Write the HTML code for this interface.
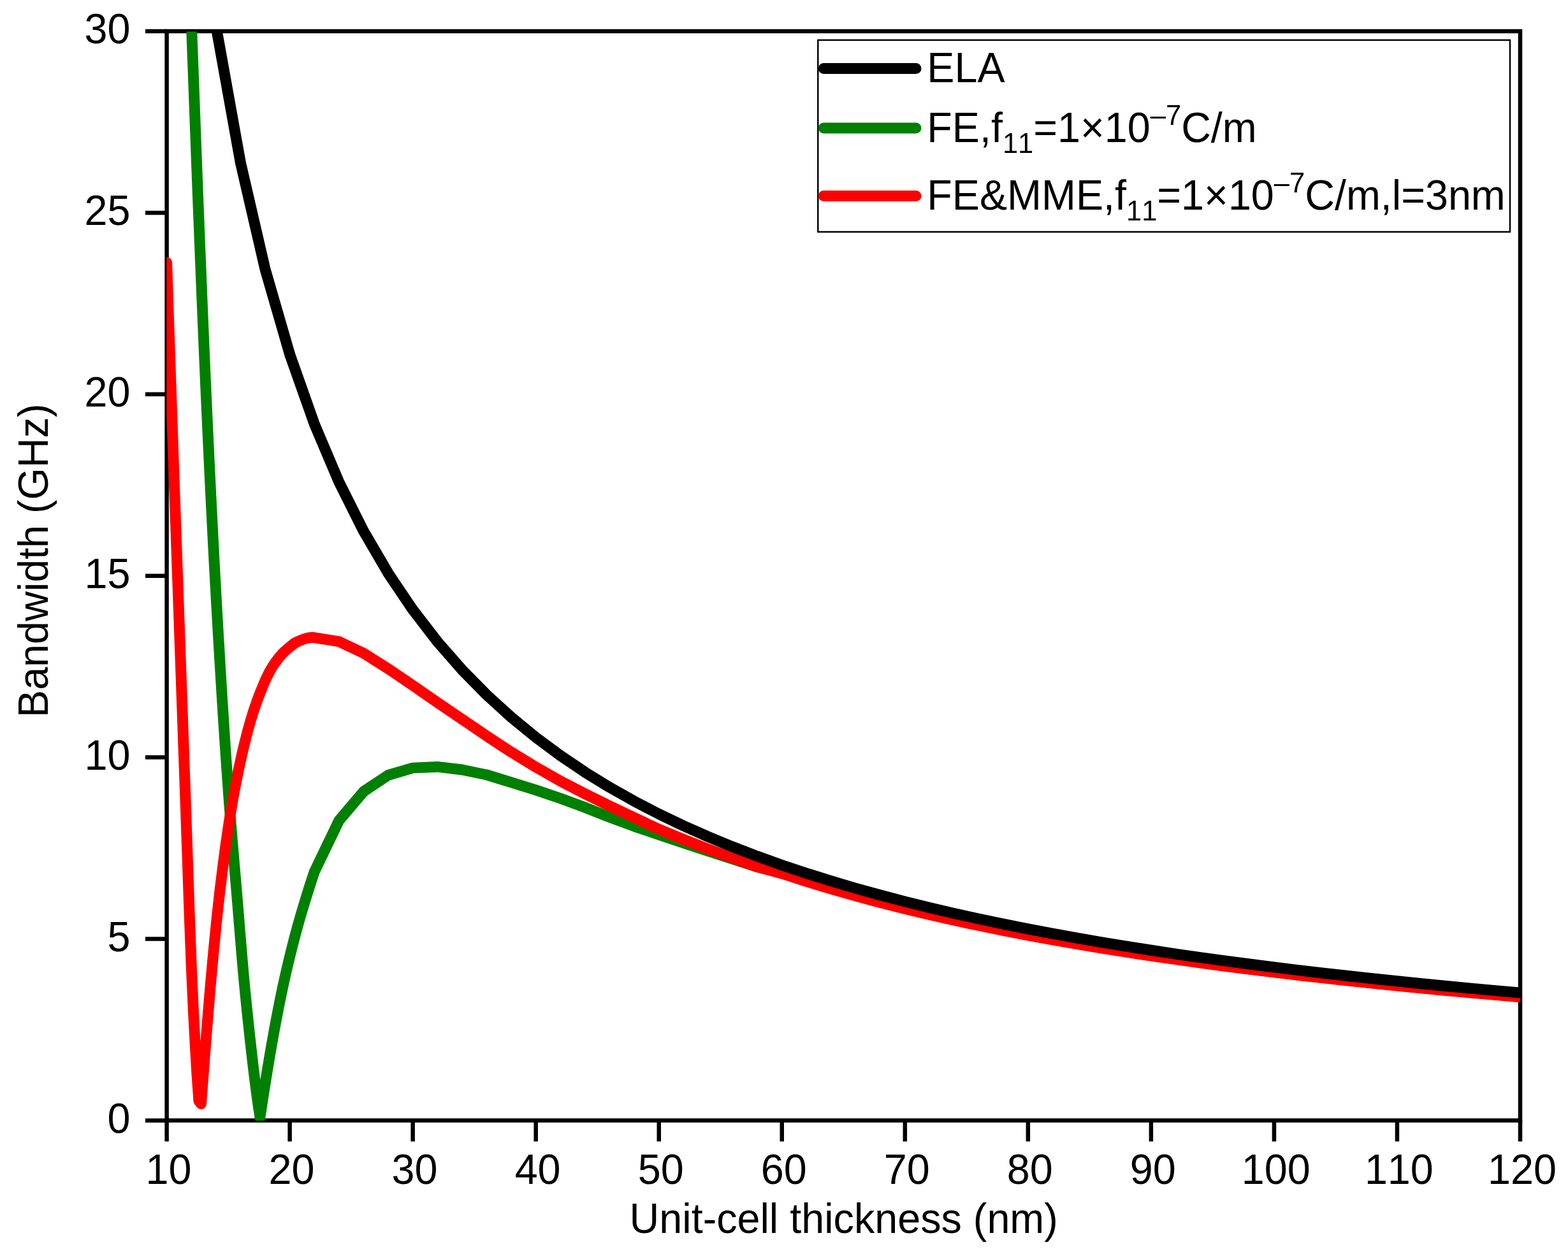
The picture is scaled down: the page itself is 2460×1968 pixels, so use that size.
<!DOCTYPE html>
<html lang="en">
<head>
<meta charset="utf-8">
<title>Bandwidth vs unit-cell thickness</title>
<style>
html,body{margin:0;padding:0;background:#fff;}
body{width:2460px;height:1968px;overflow:hidden;}
svg{display:block;}
text{font-family:"Liberation Sans",sans-serif;fill:#000;font-kerning:none;}
</style>
</head>
<body>
<svg width="2460" height="1968" viewBox="0 0 2460 1968">
<rect x="0" y="0" width="2460" height="1968" fill="#fff"/>
<defs><clipPath id="plotclip"><rect x="261.30" y="49.50" width="2123.70" height="1709.20"/></clipPath></defs>

<g stroke="#000" stroke-width="6.5" fill="none" stroke-linecap="butt">
<rect x="261.6" y="49.0" width="2123.40" height="1709.40"/>
<line x1="228.00" y1="1758.40" x2="261.60" y2="1758.40"/>
<line x1="228.00" y1="1473.50" x2="261.60" y2="1473.50"/>
<line x1="228.00" y1="1188.60" x2="261.60" y2="1188.60"/>
<line x1="228.00" y1="903.70" x2="261.60" y2="903.70"/>
<line x1="228.00" y1="618.80" x2="261.60" y2="618.80"/>
<line x1="228.00" y1="333.90" x2="261.60" y2="333.90"/>
<line x1="228.00" y1="49.00" x2="261.60" y2="49.00"/>
<line x1="261.60" y1="1758.40" x2="261.60" y2="1791.40"/>
<line x1="454.64" y1="1758.40" x2="454.64" y2="1791.40"/>
<line x1="647.67" y1="1758.40" x2="647.67" y2="1791.40"/>
<line x1="840.71" y1="1758.40" x2="840.71" y2="1791.40"/>
<line x1="1033.75" y1="1758.40" x2="1033.75" y2="1791.40"/>
<line x1="1226.78" y1="1758.40" x2="1226.78" y2="1791.40"/>
<line x1="1419.82" y1="1758.40" x2="1419.82" y2="1791.40"/>
<line x1="1612.85" y1="1758.40" x2="1612.85" y2="1791.40"/>
<line x1="1805.89" y1="1758.40" x2="1805.89" y2="1791.40"/>
<line x1="1998.93" y1="1758.40" x2="1998.93" y2="1791.40"/>
<line x1="2191.96" y1="1758.40" x2="2191.96" y2="1791.40"/>
<line x1="2385.00" y1="1758.40" x2="2385.00" y2="1791.40"/>
</g>
<g clip-path="url(#plotclip)" fill="none" stroke-width="17" stroke-linejoin="round" stroke-linecap="round">
<path stroke="#008000" d="M290.56,-224.50 L293.42,-147.76 L296.28,-71.19 L299.14,5.22 L302.01,81.60 L304.87,158.73 L307.73,235.55 L310.59,310.69 L313.46,383.10 L316.32,454.10 L319.18,523.42 L322.04,590.34 L324.91,654.13 L327.77,715.37 L330.63,774.73 L333.49,832.00 L336.36,886.94 L339.22,939.34 L342.08,989.46 L344.94,1038.07 L347.81,1085.10 L350.67,1130.43 L353.53,1173.95 L356.39,1215.54 L359.26,1255.08 L362.12,1291.85 L364.98,1326.32 L367.85,1359.66 L370.71,1393.06 L373.57,1427.57 L376.43,1462.80 L379.30,1497.56 L382.16,1530.63 L385.02,1560.81 L387.88,1588.85 L390.75,1616.05 L393.61,1642.26 L396.47,1667.33 L399.33,1691.11 L402.20,1713.46 L405.06,1734.23 L407.92,1753.27 L410.86,1733.75 L413.81,1714.70 L416.75,1696.12 L419.69,1678.03 L422.63,1660.41 L425.57,1643.29 L428.52,1626.66 L431.46,1610.52 L434.40,1594.88 L437.34,1579.75 L440.29,1565.12 L443.23,1551.02 L446.17,1537.47 L449.11,1524.44 L452.05,1511.86 L455.00,1499.70 L457.94,1487.90 L460.88,1476.40 L463.82,1465.16 L466.76,1454.23 L469.71,1443.77 L472.65,1433.68 L475.59,1423.83 L478.53,1414.11 L481.48,1404.54 L484.42,1395.14 L487.36,1385.92 L490.30,1376.90 L493.24,1368.09 L531.85,1287.75 L570.46,1242.16 L609.07,1216.52 L647.67,1205.12 L686.28,1203.41 L724.89,1207.97 L763.49,1215.95 L802.10,1227.92 L840.71,1239.88 L879.32,1252.99 L917.92,1267.23 L956.53,1282.62 L995.14,1296.86 L1033.75,1309.97 L1072.35,1323.07 L1110.96,1335.61 L1149.57,1348.14 L1188.17,1360.68 L1226.78,1370.18 L1265.39,1382.70 L1304.00,1394.44 L1342.60,1405.47 L1381.21,1415.85 L1419.82,1425.64 L1458.43,1434.88 L1497.03,1443.62 L1535.64,1451.91 L1574.25,1459.77 L1612.85,1467.23 L1651.46,1474.33 L1690.07,1481.10 L1728.68,1487.55 L1767.28,1493.70 L1805.89,1499.58 L1844.50,1505.21 L1883.11,1510.60 L1921.71,1515.76 L1960.32,1520.71 L1998.93,1525.47 L2037.53,1530.03 L2076.14,1534.42 L2114.75,1538.65 L2153.36,1542.72 L2191.96,1546.64 L2230.57,1550.42 L2269.18,1554.07 L2307.79,1557.59 L2346.39,1561.00 L2385.00,1564.29"/>
<path stroke="#ff0000" d="M261.60,411.96 L264.56,501.19 L267.53,589.16 L270.49,675.71 L273.45,760.63 L276.42,844.50 L279.38,928.10 L282.35,1011.99 L285.31,1095.87 L288.27,1179.33 L291.24,1262.10 L294.20,1348.30 L297.16,1434.72 L300.13,1514.05 L303.09,1579.76 L306.06,1636.83 L309.02,1686.73 L311.98,1727.92 L315.46,1732.42 L320.33,1668.22 L325.21,1605.81 L330.08,1547.59 L334.95,1494.16 L339.83,1444.50 L344.70,1400.24 L349.58,1360.64 L354.45,1323.94 L359.32,1290.45 L364.20,1260.50 L369.07,1233.99 L373.95,1209.60 L378.82,1187.12 L383.70,1166.43 L388.57,1147.42 L393.44,1130.01 L398.32,1114.33 L403.19,1100.24 L408.07,1087.38 L412.94,1075.32 L417.81,1064.14 L422.69,1054.25 L427.56,1045.97 L432.44,1038.95 L437.31,1032.48 L442.19,1026.64 L447.06,1021.82 L451.93,1017.58 L456.81,1013.60 L461.68,1009.73 L466.56,1007.01 L471.43,1004.97 L476.30,1003.14 L481.18,1001.65 L486.05,1000.65 L490.93,1000.28 L531.85,1006.83 L570.46,1025.07 L609.07,1049.57 L647.67,1075.78 L686.28,1102.56 L724.89,1128.77 L763.49,1154.98 L802.10,1180.34 L840.71,1203.98 L879.32,1225.92 L917.92,1245.86 L956.53,1264.95 L995.14,1283.19 L1033.75,1301.42 L1072.35,1317.37 L1110.96,1332.47 L1149.57,1346.72 L1188.17,1360.39 L1226.78,1370.94 L1265.39,1383.43 L1304.00,1395.15 L1342.60,1406.16 L1381.21,1416.52 L1419.82,1426.29 L1458.43,1435.51 L1497.03,1444.24 L1535.64,1452.51 L1574.25,1460.35 L1612.85,1467.80 L1651.46,1474.89 L1690.07,1481.64 L1728.68,1488.08 L1767.28,1494.22 L1805.89,1500.09 L1844.50,1505.71 L1883.11,1511.08 L1921.71,1516.24 L1960.32,1521.18 L1998.93,1525.92 L2037.53,1530.48 L2076.14,1534.86 L2114.75,1539.08 L2153.36,1543.14 L2191.96,1547.06 L2230.57,1550.83 L2269.18,1554.47 L2307.79,1557.99 L2346.39,1561.38 L2385.00,1564.67"/>
<path stroke="#000000" d="M261.60,-646.16 L300.21,-245.40 L338.81,40.86 L377.42,255.55 L416.03,422.54 L454.64,556.12 L493.24,665.42 L531.85,756.50 L570.46,833.57 L609.07,899.63 L647.67,956.88 L686.28,1006.98 L724.89,1051.18 L763.49,1090.47 L802.10,1125.62 L840.71,1157.26 L879.32,1185.89 L917.92,1211.91 L956.53,1235.67 L995.14,1257.45 L1033.75,1277.49 L1072.35,1295.99 L1110.96,1313.11 L1149.57,1329.02 L1188.17,1343.82 L1226.78,1357.64 L1265.39,1370.57 L1304.00,1382.69 L1342.60,1394.07 L1381.21,1404.79 L1419.82,1414.89 L1458.43,1424.43 L1497.03,1433.46 L1535.64,1442.01 L1574.25,1450.12 L1612.85,1457.83 L1651.46,1465.16 L1690.07,1472.14 L1728.68,1478.80 L1767.28,1485.16 L1805.89,1491.23 L1844.50,1497.04 L1883.11,1502.60 L1921.71,1507.93 L1960.32,1513.04 L1998.93,1517.94 L2037.53,1522.66 L2076.14,1527.19 L2114.75,1531.56 L2153.36,1535.76 L2191.96,1539.80 L2230.57,1543.71 L2269.18,1547.47 L2307.79,1551.11 L2346.39,1554.62 L2385.00,1558.02"/>
</g>
<g>
<text transform="translate(204.50,1777.70) scale(1,1.034)" font-size="64.7" text-anchor="end">0</text>
<text transform="translate(204.50,1492.80) scale(1,1.034)" font-size="64.7" text-anchor="end">5</text>
<text transform="translate(204.50,1207.90) scale(1,1.034)" font-size="64.7" text-anchor="end">10</text>
<text transform="translate(204.50,923.00) scale(1,1.034)" font-size="64.7" text-anchor="end">15</text>
<text transform="translate(204.50,638.10) scale(1,1.034)" font-size="64.7" text-anchor="end">20</text>
<text transform="translate(204.50,353.20) scale(1,1.034)" font-size="64.7" text-anchor="end">25</text>
<text transform="translate(204.50,68.30) scale(1,1.034)" font-size="64.7" text-anchor="end">30</text>
<text transform="translate(264.50,1857.80) scale(1,1.034)" font-size="64.7" text-anchor="middle">10</text>
<text transform="translate(457.54,1857.80) scale(1,1.034)" font-size="64.7" text-anchor="middle">20</text>
<text transform="translate(650.57,1857.80) scale(1,1.034)" font-size="64.7" text-anchor="middle">30</text>
<text transform="translate(843.61,1857.80) scale(1,1.034)" font-size="64.7" text-anchor="middle">40</text>
<text transform="translate(1036.65,1857.80) scale(1,1.034)" font-size="64.7" text-anchor="middle">50</text>
<text transform="translate(1229.68,1857.80) scale(1,1.034)" font-size="64.7" text-anchor="middle">60</text>
<text transform="translate(1422.72,1857.80) scale(1,1.034)" font-size="64.7" text-anchor="middle">70</text>
<text transform="translate(1615.75,1857.80) scale(1,1.034)" font-size="64.7" text-anchor="middle">80</text>
<text transform="translate(1808.79,1857.80) scale(1,1.034)" font-size="64.7" text-anchor="middle">90</text>
<text transform="translate(2001.83,1857.80) scale(1,1.034)" font-size="64.7" text-anchor="middle">100</text>
<text transform="translate(2194.86,1857.80) scale(1,1.034)" font-size="64.7" text-anchor="middle">110</text>
<text transform="translate(2387.90,1857.80) scale(1,1.034)" font-size="64.7" text-anchor="middle">120</text>
</g>
<text transform="translate(987.60,1935.00) scale(1,1.034)" font-size="64.7" text-anchor="start">Unit-cell thickness (nm)</text>
<text transform="translate(74.70,1126.00) rotate(-90) scale(1,1.034)" font-size="64.7">Bandwidth (GHz)</text>
<rect x="1283.3" y="62.9" width="1085.70" height="301.00" fill="#fff" stroke="#000" stroke-width="2.5"/>
<g fill="none" stroke-width="17" stroke-linecap="round">
<line x1="1292.3" y1="107.5" x2="1437.0" y2="107.5" stroke="#000000"/>
<line x1="1292.3" y1="201.0" x2="1437.0" y2="201.0" stroke="#008000"/>
<line x1="1292.3" y1="307.6" x2="1437.0" y2="307.6" stroke="#ff0000"/>
</g>
<text transform="translate(1454.30,129.05) scale(1,1.034)" font-size="64.7">ELA</text>
<text transform="translate(1454.30,223.30) scale(1,1.034)" font-size="64.7">FE,f<tspan font-size="43.5" dy="16.15">11</tspan><tspan dy="-16.15">=1×10</tspan><tspan font-size="43.5" dy="-26.69">–7</tspan><tspan dy="26.69">C/m</tspan></text>
<text transform="translate(1454.30,329.40) scale(1,1.034)" font-size="64.7">FE&amp;MME,f<tspan font-size="43.5" dy="16.15">11</tspan><tspan dy="-16.15">=1×10</tspan><tspan font-size="43.5" dy="-26.69">–7</tspan><tspan dy="26.69">C/m,l=3nm</tspan></text>
</svg>
</body>
</html>
